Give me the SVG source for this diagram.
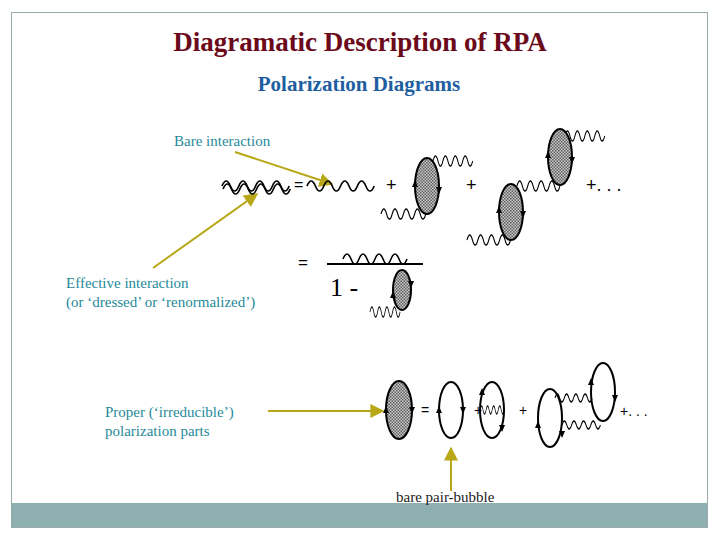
<svg xmlns="http://www.w3.org/2000/svg" width="720" height="540" viewBox="0 0 720 540">
<defs>
<pattern id="sh" width="3" height="3" patternUnits="userSpaceOnUse"><rect width="3" height="3" fill="#c8c8c8"/><rect width="1.5" height="1.5" fill="#606060"/><rect x="1.5" y="1.5" width="1.5" height="1.5" fill="#606060"/></pattern>
<marker id="ya" viewBox="0 0 10 10" refX="9" refY="5" markerWidth="7" markerHeight="7" orient="auto"><path d="M0,0L10,5L0,10z" fill="#b8a818"/></marker>
<path id="w" d="M0,0 q4,-10 8,0 t8,0 t8,0 t8,0 t8,0 t8,0 t8,0 t8,0" fill="none" stroke="#000" stroke-width="1.6"/>
<path id="tu" d="M-3,3 L0,-4 L3,3z" fill="#000"/>
<path id="td" d="M-3,-3 L0,4 L3,-3z" fill="#000"/>
</defs>
<style>
.lb{font-family:'Liberation Serif','DejaVu Serif',serif;font-size:15px;fill:#1f8a9a}
.op{font-family:'Liberation Sans',sans-serif;fill:#000}
.el{stroke:#000;stroke-width:2;fill:url(#sh)}
.eo{stroke:#000;stroke-width:2;fill:none}
.ar{stroke:#b8a818;stroke-width:2;fill:none;marker-end:url(#ya)}
.ti{font-family:'Liberation Serif','DejaVu Serif',serif;font-weight:bold}
.sf{font-family:'Liberation Serif','DejaVu Serif',serif}
</style>
<rect x="11.5" y="12.5" width="696" height="515" fill="#fff" stroke="#9aa" stroke-width="1"/>
<rect x="12" y="503" width="695" height="24" fill="#8fb0b0"/>
<text class="ti" x="360" y="51" text-anchor="middle" font-size="27" fill="#6b0a1a">Diagramatic Description of RPA</text>
<text class="ti" x="359" y="91" text-anchor="middle" font-size="21" fill="#1f5f9f">Polarization Diagrams</text>
<g id="labels">
<text class="lb" x="174" y="146">Bare interaction</text>
<text class="lb" x="66" y="288">Effective interaction</text>
<text class="lb" x="66" y="307">(or ‘dressed’ or ‘renormalized’)</text>
<text class="lb" x="105" y="417">Proper (‘irreducible’)</text>
<text class="lb" x="105" y="436">polarization parts</text>
<text class="sf" x="396" y="502" font-size="15" fill="#222">bare pair-bubble</text>
</g>
<g id="connectors">
<path class="ar" d="M235,152 L332,184"/>
<path class="ar" d="M153,268 L257,194"/>
<path class="ar" d="M268,411 L383,411"/>
<path class="ar" d="M451,491 L451,448"/>
</g>
<g id="row1">
<g transform="translate(222,186) scale(1.05,1)"><use href="#w"/><use href="#w" transform="translate(1,3)"/></g>
<text class="op" x="294" y="190" font-size="16">=</text>
<use href="#w" transform="translate(307,186) scale(1.05,1)"/>
<text class="op" x="386" y="191" font-size="18">+</text>
<use href="#w" transform="translate(433,161) scale(0.62,1)"/>
<use href="#w" transform="translate(381,214) scale(0.7,1)"/>
<ellipse class="el" cx="427" cy="186" rx="12" ry="28"/>
<use href="#tu" x="415" y="184"/><use href="#td" x="439" y="190"/>
<text class="op" x="466" y="191" font-size="18">+</text>
<use href="#w" transform="translate(467,240) scale(0.68,1)"/>
<use href="#w" transform="translate(517,186) scale(0.67,1)"/>
<use href="#w" transform="translate(565,136) scale(0.62,1)"/>
<ellipse class="el" cx="511" cy="212" rx="12" ry="28"/>
<use href="#tu" x="499" y="210"/><use href="#td" x="523" y="214"/>
<ellipse class="el" cx="560" cy="157" rx="12" ry="28"/>
<use href="#tu" x="548" y="155"/><use href="#td" x="572" y="160"/>
<text class="op" x="586" y="191" font-size="18">+. . .</text>
</g>
<g id="row2">
<text class="op" x="298" y="268" font-size="17">=</text>
<use href="#w" transform="translate(343,259) scale(1,1)"/>
<line x1="327" y1="264" x2="423" y2="264" stroke="#000" stroke-width="2"/>
<text class="sf" x="330" y="296" font-size="26">1  -</text>
<use href="#w" transform="translate(370,312) scale(0.47,1)"/>
<ellipse class="el" cx="402" cy="290" rx="9" ry="20"/>
<use href="#tu" x="393" y="295"/><use href="#td" x="411" y="284"/>
</g>
<g id="row3">
<ellipse class="el" cx="399" cy="410" rx="13" ry="29"/>
<use href="#tu" x="386" y="410"/><use href="#td" x="412" y="410"/>
<text class="op" x="421" y="415" font-size="14">=</text>
<ellipse class="eo" cx="451" cy="410" rx="12" ry="28"/>
<use href="#tu" x="439" y="410"/><use href="#td" x="463" y="410"/>
<text class="op" x="474" y="415" font-size="14">+</text>
<ellipse class="eo" cx="492" cy="410" rx="12" ry="28"/>
<use href="#w" transform="translate(480,410) scale(0.38,0.8)"/>
<use href="#tu" x="482" y="392"/><use href="#td" x="502" y="428"/>
<text class="op" x="519" y="415" font-size="14">+</text>
<use href="#w" transform="translate(555,398) scale(0.58,0.8)"/>
<use href="#w" transform="translate(562,425) scale(0.6,0.8)"/>
<ellipse class="eo" cx="550" cy="418" rx="12" ry="29"/>
<use href="#tu" x="538" y="425"/><use href="#td" x="562" y="434"/>
<ellipse class="eo" cx="603" cy="392" rx="12" ry="29"/>
<use href="#tu" x="591" y="382"/><use href="#td" x="615" y="398"/>
<text class="op" x="620" y="416" font-size="14">+. . .</text>
</g>
</svg>
